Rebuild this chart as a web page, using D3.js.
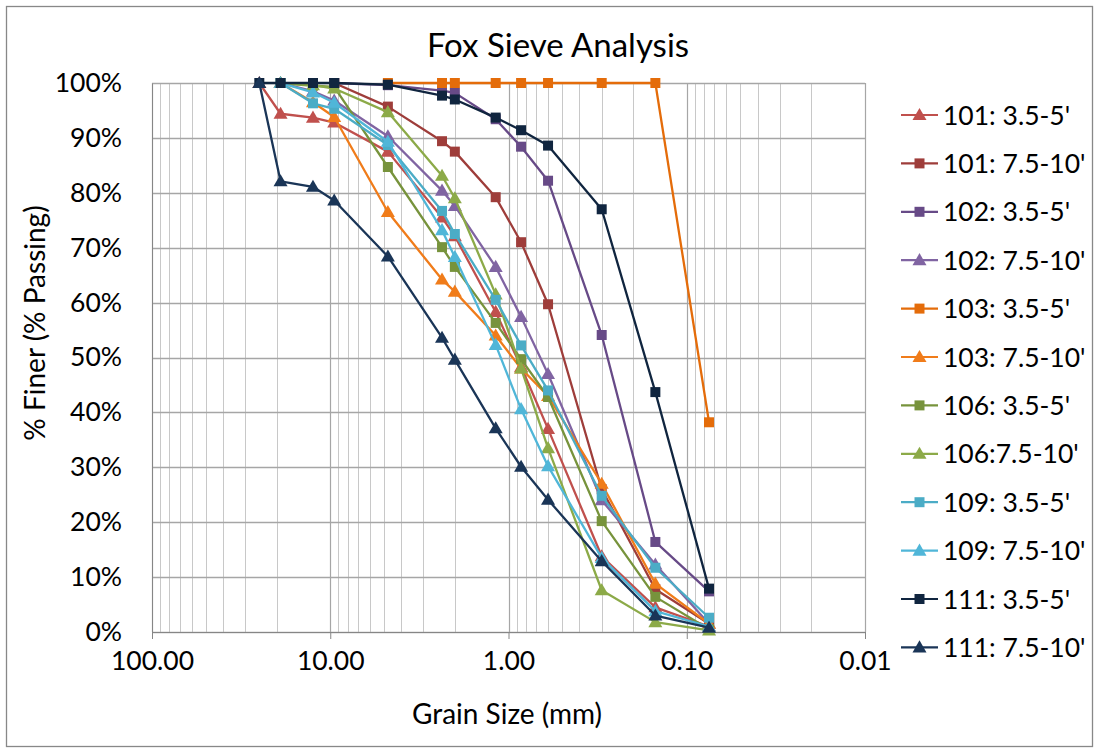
<!DOCTYPE html>
<html>
<head>
<meta charset="utf-8">
<script src="https://cdn.jsdelivr.net/npm/d3@7"></script>
<style>
  body { margin: 0; background: #fff; }
  svg { font-family: Lato, "Open Sans", sans-serif; }
</style>
</head>
<body>
<div id="chart"></div>
<script>
// sieve openings (mm)
var sizes = [25, 19, 12.5, 9.5, 4.75, 2.36, 2.0, 1.18, 0.85, 0.6, 0.3, 0.15, 0.075];

// percent passing for each sample, null = no reading
var s101a = [100, 94.4, 93.7, 92.8, 87.5, 75.5, 72.1, 58.3, 48.3, 37.0, 13.8, 4.5, 1.0];
var s101b = [null, null, null, 100, 95.7, 89.4, 87.5, 79.2, 71.0, 59.7, 26.0, 7.8, 1.5];
var s102a = [null, null, null, 100, 99.6, 98.6, 98.2, 93.4, 88.4, 82.2, 54.1, 16.4, 7.4];
var s102b = [null, 100, 98.5, 96.8, 90.3, 80.4, 77.6, 66.5, 57.4, 47.0, 24.0, 12.3, 1.5];
var s103a = [null, null, null, null, 100, 100, 100, 100, 100, 100, 100, 100, 38.2];
var s103b = [null, 100, 96.5, 93.8, 76.5, 64.2, 62.0, 54.0, 48.0, 43.0, 27.0, 8.8, 1.5];
var s106a = [null, 100, 99.5, 99.3, 84.7, 70.1, 66.5, 56.3, 49.7, 42.8, 20.2, 6.4, 0.5];
var s106b = [null, 100, 99.6, 99.0, 94.7, 83.1, 79.0, 61.5, 48.0, 33.5, 7.6, 1.8, 0.3];
var s109a = [null, 100, 96.3, 95.3, 88.7, 76.7, 72.5, 60.5, 52.2, 44.0, 24.8, 11.7, 2.6];
var s109b = [null, 100, 98.3, 96.4, 89.3, 73.2, 68.3, 52.3, 40.6, 30.2, 13.5, 3.8, 1.0];
var s111a = [100, 100, 100, 100, 99.7, 97.7, 97.0, 93.7, 91.4, 88.6, 77.0, 43.7, 7.9];
var s111b = [100, 82.1, 81.1, 78.6, 68.4, 53.6, 49.6, 37.1, 30.1, 24.1, 12.9, 3.0, 0.8];

var names = ["101: 3.5-5'", "101: 7.5-10'", "102: 3.5-5'", "102: 7.5-10'",
             "103: 3.5-5'", "103: 7.5-10'", "106: 3.5-5'", "106:7.5-10'",
             "109: 3.5-5'", "109: 7.5-10'", "111: 3.5-5'", "111: 7.5-10'"];
var values = [s101a, s101b, s102a, s102b, s103a, s103b, s106a, s106b, s109a, s109b, s111a, s111b];
var colors = ["#C0504D", "#9E3D3A", "#674A87", "#8064A2", "#E46C0A", "#F07C1A",
              "#77933C", "#8CAA48", "#4BACC6", "#50B6D8", "#10253F", "#1A3557"];
var shapes = ["tri", "sq", "sq", "tri", "sq", "tri", "sq", "tri", "sq", "tri", "sq", "tri"];

var xTicks = [100, 10, 1, 0.1, 0.01];
var yTicks = [0, 10, 20, 30, 40, 50, 60, 70, 80, 90, 100];

var W = 1099, H = 753;
var margin = {top: 83, left: 152};
var w = 713, h = 549;

var svg = d3.select("#chart")
            .append("svg")
            .attr("width", W)
            .attr("height", H);

// outer frame
svg.append("rect")
   .attr("x", 6.5).attr("y", 6.5)
   .attr("width", W - 13).attr("height", H - 13)
   .attr("fill", "#fff")
   .attr("stroke", "#888")
   .attr("stroke-width", 1.3);

var g = svg.append("g")
           .attr("transform", "translate(" + margin.left + "," + margin.top + ")");

//reversed log scale for grain size
var x = d3.scaleLog()
          .domain([100, 0.01])
          .range([0, w]);

var y = d3.scaleLinear()
          .domain([0, 100])
          .range([h, 0]);

// minor vertical gridlines
var minors = [];
[10, 1, 0.1, 0.01].forEach(function(dec) {
  for (var k = 2; k <= 9; k++) minors.push(dec * k);
});

g.selectAll(".minor")
 .data(minors)
 .enter()
 .append("line")
 .attr("x1", function(d) { return Math.round(x(d)) + 0.5; })
 .attr("x2", function(d) { return Math.round(x(d)) + 0.5; })
 .attr("y1", 0).attr("y2", h)
 .attr("stroke", "#C8C8C8")
 .attr("stroke-width", 1);

// major vertical gridlines
g.selectAll(".major")
 .data(xTicks)
 .enter()
 .append("line")
 .attr("x1", function(d) { return Math.round(x(d)) + 0.5; })
 .attr("x2", function(d) { return Math.round(x(d)) + 0.5; })
 .attr("y1", 0).attr("y2", h)
 .attr("stroke", "#A6A6A6")
 .attr("stroke-width", 1.2);

// horizontal gridlines
g.selectAll(".hgrid")
 .data(yTicks)
 .enter()
 .append("line")
 .attr("x1", 0).attr("x2", w)
 .attr("y1", function(d) { return Math.round(y(d)) + 0.5; })
 .attr("y2", function(d) { return Math.round(y(d)) + 0.5; })
 .attr("stroke", "#A6A6A6")
 .attr("stroke-width", 1.4);

//x axis
var xAxis = d3.axisBottom(x)
              .tickValues(xTicks)
              .tickFormat(d3.format(".2f"))
              .tickSize(7)
              .tickSizeOuter(0);

var xg = g.append("g")
          .attr("transform", "translate(0," + h + ")")
          .call(xAxis);
xg.select(".domain").attr("stroke", "#868686");
xg.selectAll(".tick line").attr("stroke", "#868686");
xg.selectAll("text")
  .attr("font-family", "Lato, sans-serif")
  .attr("font-size", 26.5)
  .attr("fill", "#000")
  .attr("dy", "1.05em");

//y axis
var yAxis = d3.axisLeft(y)
              .tickValues(yTicks)
              .tickFormat(function(d) { return d + "%"; })
              .tickSize(0)
              .tickPadding(30);

var yg = g.append("g").call(yAxis);
yg.select(".domain").attr("stroke", "#868686");
yg.selectAll("text")
  .attr("font-family", "Lato, sans-serif")
  .attr("font-size", 26.5)
  .attr("fill", "#000");

// series
var line = d3.line()
             .defined(function(d) { return d.v != null; })
             .x(function(d) { return x(d.s); })
             .y(function(d) { return y(d.v); });

var sq = d3.symbol().type(d3.symbolSquare).size(100);
var tri = d3.symbol().type(d3.symbolTriangle).size(85);

values.forEach(function(vals, i) {
  var pts = sizes.map(function(s, j) { return {s: s, v: vals[j]}; });
  var sg = g.append("g");
  sg.append("path")
    .datum(pts)
    .attr("d", line)
    .attr("fill", "none")
    .attr("stroke", colors[i])
    .attr("stroke-width", 2.3)
    .attr("stroke-linejoin", "round");
  sg.selectAll("path.m")
    .data(pts.filter(function(d) { return d.v != null; }))
    .enter()
    .append("path")
    .attr("class", "m")
    .attr("d", shapes[i] == "sq" ? sq : tri)
    .attr("transform", function(d) {
      return "translate(" + x(d.s) + "," + (y(d.v) + (shapes[i] == "sq" ? 0 : 1)) + ")";
    })
    .attr("fill", colors[i]);
});

// title
svg.append("text")
   .attr("x", 558).attr("y", 57)
   .attr("text-anchor", "middle")
   .attr("font-size", 33)
   .text("Fox Sieve Analysis");

svg.append("text")
   .attr("x", 507).attr("y", 724)
   .attr("text-anchor", "middle")
   .attr("font-size", 28)
   .text("Grain Size (mm)");

svg.append("text")
   .attr("transform", "translate(45,323) rotate(-90)")
   .attr("text-anchor", "middle")
   .attr("font-size", 28)
   .text("% Finer (% Passing)");

// legend
var leg = svg.append("g");
names.forEach(function(n, i) {
  var ly = 115 + i * 48.4;
  leg.append("line")
     .attr("x1", 901).attr("x2", 938)
     .attr("y1", ly).attr("y2", ly)
     .attr("stroke", colors[i])
     .attr("stroke-width", 2.2);
  leg.append("path")
     .attr("d", shapes[i] == "sq" ? sq : tri)
     .attr("transform", "translate(919.5," + (ly + (shapes[i] == "sq" ? 0 : 1)) + ")")
     .attr("fill", colors[i]);
  leg.append("text")
     .attr("x", 943).attr("y", ly)
     .attr("dy", "0.36em")
     .attr("font-size", 26.5)
     .text(n);
});
</script>
</body>
</html>
